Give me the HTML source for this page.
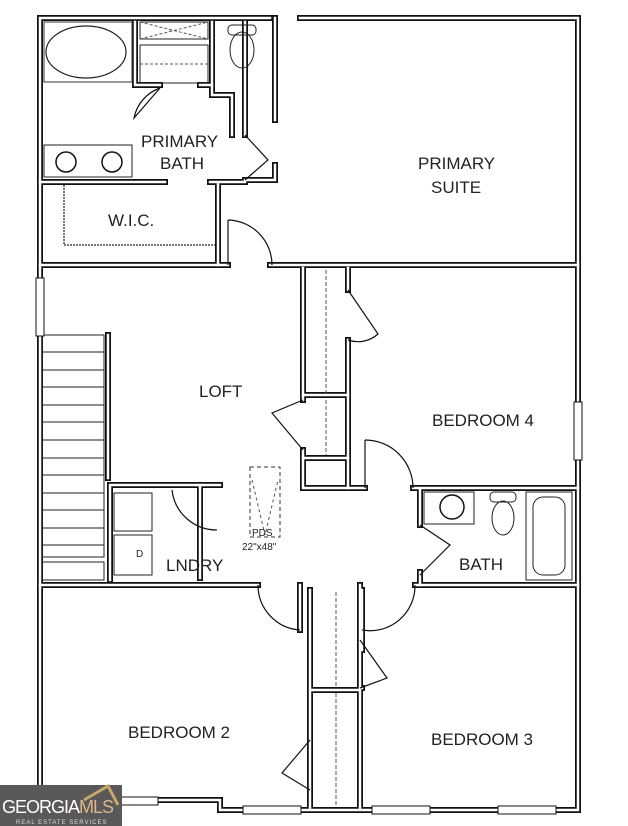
<!DOCTYPE html>
<html><head><meta charset="utf-8"><style>
html,body{margin:0;padding:0;background:#fff;width:628px;height:826px;overflow:hidden}
svg{display:block}
text{font-family:"Liberation Sans",sans-serif;fill:#222}
</style></head><body>
<svg width="628" height="826" viewBox="0 0 628 826" xmlns="http://www.w3.org/2000/svg">
<defs>
<g id="w" fill="none" stroke-linecap="square">
  <!-- outer -->
  <path d="M40 18 H270 M300 18 H578 V810 H220 V800 H40 V18"/>
  <!-- bath/suite -->
  <path d="M275 18 V120 M275 165 V180 H245"/>
  <path d="M212 22 V95 H232 V135 M245 22 V135"/>
  <path d="M135 22 V85 H160 M200 85 H212"/>
  <!-- WIC -->
  <path d="M40 182 H165 M210 182 H245 M218 182 V265"/>
  <!-- horizontal 265 -->
  <path d="M40 265 H228 M270 265 H578"/>
  <!-- closet column -->
  <path d="M303 268 V400 M348 268 V290 M348 340 V488 M303 450 V488 H348"/>
  <path d="M303 395 H348 M303 458 H348"/>
  <!-- bedroom4 bottom / bath -->
  <path d="M365 488 H348 M413 488 H578 M420 488 V525 M420 572 V585"/>
  <!-- laundry -->
  <path d="M110 485 H220 M110 485 V580 M200 485 V578"/>
  <!-- stairs rail -->
  <path d="M108 335 V478"/>
  <!-- horizontal 585 -->
  <path d="M40 585 H258 M415 585 H578"/>
  <!-- closet bottom -->
  <path d="M300 585 V630 M310 590 V808 M360 585 V808 M310 690 H360 M362 590 V650 M362 688 H360"/>
</g>
</defs>
<use href="#w" stroke="#111" stroke-width="6"/>
<use href="#w" stroke="#fff" stroke-width="2.5"/>

<!-- tub -->
<rect x="44" y="22" width="88" height="60" fill="none" stroke="#333" stroke-width="1"/>
<ellipse cx="86" cy="52" rx="40" ry="26" fill="none" stroke="#222" stroke-width="1.2"/>
<!-- shower X -->
<rect x="140" y="22" width="68" height="17" fill="none" stroke="#222"/>
<path d="M140 22 L208 39 M140 39 L208 22" stroke="#555" stroke-dasharray="3 2"/>
<rect x="140" y="45" width="68" height="38" fill="none" stroke="#222"/>
<path d="M140 64 H208" stroke="#555" stroke-dasharray="3 2"/>
<!-- toilets -->
<rect x="228" y="25" width="28" height="10" rx="4" fill="none" stroke="#222"/>
<ellipse cx="242" cy="50" rx="12" ry="18" fill="none" stroke="#222"/>
<rect x="490" y="492" width="26" height="10" rx="4" fill="none" stroke="#222"/>
<ellipse cx="503" cy="518" rx="11" ry="17" fill="none" stroke="#222"/>
<!-- vanity -->
<rect x="44" y="145" width="88" height="32" fill="none" stroke="#222"/>
<circle cx="66" cy="162" r="10" fill="none" stroke="#111" stroke-width="1.5"/>
<circle cx="112" cy="162" r="10" fill="none" stroke="#111" stroke-width="1.5"/>
<rect x="424" y="492" width="50" height="32" fill="none" stroke="#222"/>
<circle cx="452" cy="507" r="12" fill="none" stroke="#111" stroke-width="1.5"/>
<!-- bath tub -->
<rect x="526" y="492" width="46" height="88" fill="none" stroke="#222"/>
<rect x="533" y="497" width="32" height="78" rx="10" fill="none" stroke="#222"/>
<!-- WIC rods -->
<path d="M64 185 V245 H215" fill="none" stroke="#777" stroke-width="2" stroke-dasharray="2 1"/>
<!-- stairs -->
<g stroke="#222" fill="none">
<rect x="42" y="335" width="62" height="222"/>
<path d="M42 352H104M42 370H104M42 387H104M42 405H104M42 422H104M42 440H104M42 458H104M42 475H104M42 493H104M42 510H104M42 528H104M42 545H104"/>
<rect x="42" y="562" width="62" height="18"/>
</g>
<!-- closet dashed rods -->
<path d="M326 270 V393 M326 400 V455 M336 592 V688 M336 693 V806" stroke="#555" stroke-dasharray="4 2"/>
<!-- laundry machines -->
<rect x="114" y="493" width="38" height="38" fill="none" stroke="#222"/>
<rect x="114" y="535" width="38" height="40" fill="none" stroke="#222"/>
<text x="136" y="557" font-size="10">D</text>
<!-- PDS -->
<rect x="250" y="467" width="30" height="70" fill="none" stroke="#333" stroke-dasharray="4 3"/>
<path d="M252 480 L265 535 L278 480" fill="none" stroke="#555" stroke-dasharray="3 3"/>
<text x="252" y="536" font-size="10">PDS</text>
<text x="242" y="550" font-size="10">22"x48"</text>
<!-- doors arcs -->
<g fill="none" stroke="#111" stroke-width="1.2">
<path d="M228 220 V265 M228 220 A45 45 0 0 1 272 265"/>
<path d="M160 88 L134 118 A40 40 0 0 1 160 88"/>
<path d="M245 135 L268 160 L245 180"/>
<path d="M348 290 L378 334 A30 30 0 0 1 348 340"/>
<path d="M303 400 L272 413 L303 450"/>
<path d="M365 440 V488 M365 440 A48 48 0 0 1 413 488"/>
<path d="M172 490 A45 45 0 0 0 217 530"/>
<path d="M420 525 L450 545 L420 575"/>
<path d="M258 585 A45 45 0 0 0 300 630"/>
<path d="M415 585 A45 45 0 0 1 362 630"/>
<path d="M360 640 L387 678 L360 688"/>
<path d="M310 740 L282 773 L310 790"/>
</g>
<!-- windows -->
<g fill="#fff" stroke="#111">
<rect x="36" y="278" width="8" height="58"/>
<rect x="574" y="402" width="8" height="58"/>
<rect x="100" y="797" width="58" height="8"/>
<rect x="243" y="806" width="58" height="8"/>
<rect x="372" y="806" width="58" height="8"/>
<rect x="498" y="806" width="58" height="8"/>
</g>
<!-- labels -->
<g font-size="17">
<text x="141" y="147">PRIMARY</text>
<text x="160" y="169">BATH</text>
<text x="418" y="169">PRIMARY</text>
<text x="431" y="193">SUITE</text>
<text x="108" y="226">W.I.C.</text>
<text x="199" y="397">LOFT</text>
<text x="432" y="426">BEDROOM 4</text>
<text x="166" y="571">LNDRY</text>
<text x="459" y="570">BATH</text>
<text x="128" y="738">BEDROOM 2</text>
<text x="431" y="745">BEDROOM 3</text>
</g>
<!-- logo -->
<rect x="0" y="785" width="122" height="41" fill="#5a5858"/>
<path d="M84 800 L108 786 L118 805" fill="none" stroke="#c9a66b" stroke-width="3"/>
<text x="2" y="813" font-size="18" style="fill:#fff;letter-spacing:-1px">GEORGIA<tspan style="fill:#d9b78a">MLS</tspan></text>
<text x="16" y="824" font-size="6" style="fill:#ddd;letter-spacing:1px">REAL ESTATE SERVICES</text>
</svg>
</body></html>
